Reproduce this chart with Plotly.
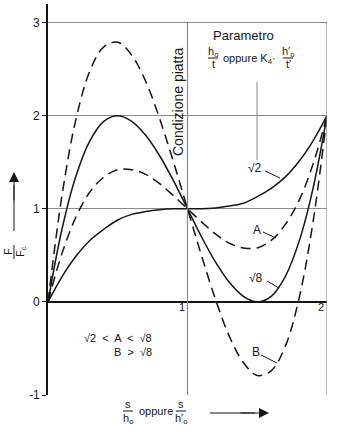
import plotly.graph_objects as go

# ---- data ----
s_ratio = [0.0, 0.1, 0.2, 0.3, 0.4, 0.5, 0.6, 0.7, 0.8, 0.9, 1.0,
           1.1, 1.2, 1.3, 1.4, 1.5, 1.6, 1.7, 1.8, 1.9, 2.0]
curve_sqrt2 = [0.0, 0.27, 0.49, 0.66, 0.78, 0.88, 0.94, 0.97, 0.99, 1.0, 1.0,
               1.0, 1.01, 1.03, 1.06, 1.13, 1.22, 1.34, 1.51, 1.73, 2.0]
curve_A = [0.0, 0.52, 0.91, 1.18, 1.34, 1.42, 1.42, 1.37, 1.27, 1.14, 1.0,
           0.86, 0.73, 0.63, 0.58, 0.58, 0.66, 0.83, 1.09, 1.48, 2.0]
curve_sqrt8 = [0.0, 0.78, 1.35, 1.73, 1.94, 2.0, 1.94, 1.79, 1.57, 1.30, 1.0,
               0.70, 0.43, 0.21, 0.06, 0.0, 0.06, 0.27, 0.65, 1.22, 2.0]
curve_B = [0.0, 1.14, 1.96, 2.48, 2.74, 2.79, 2.65, 2.37, 1.97, 1.50, 1.0,
           0.50, 0.03, -0.37, -0.65, -0.79, -0.74, -0.48, 0.04, 0.86, 2.0]
y_ticks = [-1, 0, 1, 2, 3]
y_tick_text = ["-1", "0", "1", "2", "3"]
x_tick_vals = [1, 2]
x_tick_text = ["1", "2"]

FONT = "Arial, Liberation Sans, Helvetica, sans-serif"
INK = "#161616"
GRID = "#8a8a8a"

# pixel -> paper helpers for placing decorations (plot area: x 48..327, y 4..395)
def px2p(px):
    return (px - 48) / 279.0

def py2p(py):
    return (395 - py) / 391.0

fig = go.Figure()

series = [
    (curve_B, "10px,6px"),
    (curve_sqrt8, "solid"),
    (curve_A, "10px,6px"),
    (curve_sqrt2, "solid"),
]
for vals, dash in series:
    fig.add_trace(go.Scatter(
        x=s_ratio, y=vals, mode="lines",
        line=dict(color=INK, width=1.5, dash=dash, shape="spline", smoothing=1.0),
        hoverinfo="skip", showlegend=False))

shapes = []
# right border at x=2 from -1 to 3
shapes.append(dict(type="line", xref="x", yref="y", x0=2, x1=2, y0=-1, y1=3,
                   line=dict(color=GRID, width=1.2)))
# vertical at x=1 (flat condition)
shapes.append(dict(type="line", xref="x", yref="y", x0=1, x1=1, y0=-1, y1=3,
                   line=dict(color=GRID, width=1.2)))

def pline(a, b, c, d, color=INK, width=1):
    shapes.append(dict(type="line", xref="paper", yref="paper",
                       x0=px2p(a), y0=py2p(b), x1=px2p(c), y1=py2p(d),
                       line=dict(color=color, width=width)))

# pointer line from parameter text
pline(257, 82, 257, 160, color=GRID)
# leader lines for curve labels
for (a, b, c, d) in [(265, 171, 280, 178), (263, 232, 276, 238),
                     (267, 281, 279, 288), (261, 355, 277, 363)]:
    pline(a, b, c, d)
# fraction bars
for (a, b, c) in [(208, 218, 58), (283, 293, 58), (123, 133, 411), (176, 186, 411)]:
    pline(a, c, b, c)
# y-label fraction bar (rotated, vertical)
pline(14, 245, 14, 259)
# arrow shafts
pline(14, 231, 14, 185)
pline(210, 413, 255, 413)

ann = []
def txt(px, py, text, size=12, angle=0, xanchor="center", yanchor="middle"):
    ann.append(dict(x=px2p(px), y=py2p(py), xref="paper", yref="paper", text=text,
                    showarrow=False, textangle=angle, xanchor=xanchor,
                    yanchor=yanchor, font=dict(family=FONT, size=size, color=INK)))

# x tick labels inside plot
for v, t in zip(x_tick_vals, x_tick_text):
    txt(48 + v * 139.5 - 6, 307, t, size=11)

txt(178, 102, "Condizione piatta", size=14, angle=-90)
txt(243, 36, "Parametro", size=13)
txt(213, 52, "h<sub>o</sub>", size=11)
txt(213, 64, "t", size=11)
txt(221, 59, "oppure K<sub>4</sub>\u00b7", size=11, xanchor="left")
txt(288, 52, "h\u2032<sub>o</sub>", size=11)
txt(288, 64, "t\u2032", size=11)

txt(255, 168, "\u221a2", size=12)
txt(257, 230, "A", size=12)
txt(256, 278, "\u221a8", size=12)
txt(256, 352, "B", size=12)

txt(118, 338, "\u221a2  <  A  <  \u221a8", size=11)
txt(133, 352, "B  >  \u221a8", size=11)

txt(128, 404, "s", size=11)
txt(128, 419, "h<sub>o</sub>", size=11)
txt(156, 411, "oppure", size=11)
txt(181, 404, "s", size=11)
txt(181, 419, "h\u2032<sub>o</sub>", size=11)

# rotated y label fraction F / Fc
txt(8, 252, "F", size=11, angle=-90)
txt(21, 252, "F<sub>c</sub>", size=11, angle=-90)

# arrow heads
ann.append(dict(x=px2p(14), y=py2p(172), xref="paper", yref="paper", ax=0, ay=30,
                axref="pixel", ayref="pixel", text="", showarrow=True,
                arrowhead=2, arrowsize=2, arrowwidth=1, arrowcolor=INK))
ann.append(dict(x=px2p(269), y=py2p(413), xref="paper", yref="paper", ax=-30, ay=0,
                axref="pixel", ayref="pixel", text="", showarrow=True,
                arrowhead=2, arrowsize=2, arrowwidth=1, arrowcolor=INK))

fig.update_layout(
    width=343, height=432,
    margin=dict(l=48, r=16, t=4, b=37),
    paper_bgcolor="white", plot_bgcolor="white",
    shapes=shapes, annotations=ann,
    font=dict(family=FONT, size=12, color=INK),
    xaxis=dict(range=[0, 2], showgrid=False, zeroline=False, showline=False,
               showticklabels=False, ticks="", fixedrange=True),
    yaxis=dict(range=[-1, 3.2], tickvals=y_ticks, ticktext=y_tick_text,
               showgrid=True, gridcolor=GRID, gridwidth=1.2,
               zeroline=True, zerolinecolor=INK, zerolinewidth=1.6,
               showline=True, linecolor=INK, linewidth=1.6,
               ticks="outside", ticklen=4, tickcolor=INK,
               tickfont=dict(family=FONT, size=12, color=INK), fixedrange=True),
)

fig.write_html("out.html")
